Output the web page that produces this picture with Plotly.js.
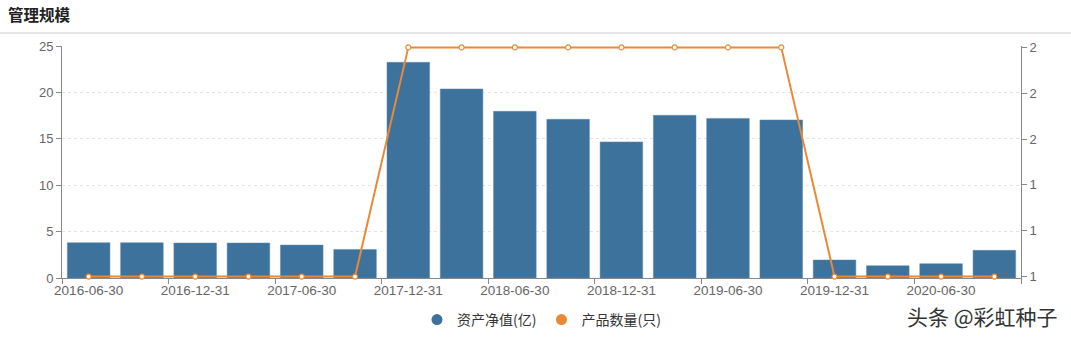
<!DOCTYPE html>
<html>
<head>
<meta charset="utf-8">
<script src="https://cdn.plot.ly/plotly-3.0.1.min.js"></script>
<style>html,body{margin:0;padding:0;background:#fff;}#chart{width:1071px;height:339px;}</style>
</head>
<body>
<div id="chart"></div>
<script>
const categories = ["2016-06-30","2016-09-30","2016-12-31","2017-03-31","2017-06-30","2017-09-30",
  "2017-12-31","2018-03-31","2018-06-30","2018-09-30","2018-12-31","2019-03-31",
  "2019-06-30","2019-09-30","2019-12-31","2020-03-31","2020-06-30","2020-09-30"];
const netAssets = [3.8, 3.8, 3.77, 3.77, 3.55, 3.08, 23.24, 20.37, 17.96, 17.1, 14.66, 17.53, 17.2, 17.03, 1.94, 1.32, 1.54, 2.98];
const productCount = [1, 1, 1, 1, 1, 1, 2, 2, 2, 2, 2, 2, 2, 2, 1, 1, 1, 1];
const seriesNames = ["资产净值(亿)", "产品数量(只)"];
const leftTicks = [0, 5, 10, 15, 20, 25];
const rightTicks = [1, 1.2, 1.4, 1.6, 1.8, 2];

const barColor = "#3d729c";
const lineColor = "#e88a35";
const fontFam = "'Liberation Sans', 'Noto Sans CJK SC', sans-serif";

const traces = [
  {type: "bar", x: categories, y: netAssets, name: seriesNames[0], marker: {color: barColor, line: {color: "#5b8ab0", width: 0.5}},
   showlegend: false, hoverinfo: "x+y"},
  {type: "scatter", mode: "lines+markers", x: categories, y: productCount, yaxis: "y2", name: seriesNames[1],
   line: {color: lineColor, width: 2}, marker: {symbol: "circle", size: 5, color: "#ffffff", line: {color: lineColor, width: 1.2}},
   cliponaxis: false, showlegend: false},
  {type: "scatter", mode: "markers", x: [null], y: [null], name: seriesNames[0], marker: {symbol: "circle", size: 11, color: barColor}},
  {type: "scatter", mode: "markers", x: [null], y: [null], name: seriesNames[1], marker: {symbol: "circle", size: 11, color: lineColor}}
];

const W = 958.7, H = 232;
const layout = {
  width: 1071, height: 339,
  margin: {l: 62, r: 50.3, t: 46, b: 61},
  paper_bgcolor: "#fff", plot_bgcolor: "#fff",
  font: {family: fontFam, color: "#666", size: 12},
  bargap: 0.2,
  title: {text: "<b>管理规模</b>", x: 8/1071, xanchor: "left", xref: "container", y: 1 - 16/339, yanchor: "middle", yref: "container",
    font: {size: 15.5, color: "#222", family: "'Noto Sans CJK SC', sans-serif"}},
  xaxis: {type: "category", categoryorder: "array", categoryarray: categories, range: [-0.5, 17.5],
    tickmode: "linear", tick0: 0, dtick: 2, tickson: "boundaries", tickangle: 0, automargin: false,
    ticks: "outside", ticklen: 5, tickcolor: "#888", showline: true, linecolor: "#888", linewidth: 1, layer: "below traces",
    showgrid: false, zeroline: false, tickfont: {size: 13.5, color: "#666"}, fixedrange: true},
  yaxis: {range: [0, 25], tickvals: leftTicks, ticks: "outside", ticklen: 5, tickcolor: "#888", automargin: false,
    showline: true, linecolor: "#888", linewidth: 1, showgrid: true, gridcolor: "#e3e3e3", griddash: "3px,3px",
    zeroline: false, tickfont: {size: 13, color: "#666"}},
  yaxis2: {overlaying: "y", side: "right", range: [0.994, 2.006], tickvals: rightTicks, tickformat: ".0f", automargin: false,
    ticks: "outside", ticklen: 5, tickcolor: "#888", showline: true, linecolor: "#888", linewidth: 1,
    showgrid: false, zeroline: false, tickfont: {size: 13, color: "#666"}},
  legend: {orientation: "h", x: 0.5, xanchor: "center", xref: "paper", yref: "container", y: 1 - 320 / 339, yanchor: "middle",
    font: {size: 14, color: "#333", family: "'Noto Sans CJK SC', sans-serif"}, itemwidth: 30, tracegroupgap: 0},
  shapes: [{type: "line", xref: "paper", yref: "paper", x0: -62 / W, x1: 1 + 51 / W, y0: (278 - 33) / H, y1: (278 - 33) / H,
    line: {color: "#cccccc", width: 1}}],
  annotations: [{text: "头条 @彩虹种子", xref: "paper", yref: "paper", x: (1060 - 62) / W, xanchor: "right",
    y: (278 - 316) / H, yanchor: "middle", showarrow: false,
    font: {size: 21, color: "#333", family: "'Noto Sans CJK SC', sans-serif"}}]
};

Plotly.newPlot("chart", traces, layout, {displayModeBar: false, staticPlot: true});
</script>
</body>
</html>
